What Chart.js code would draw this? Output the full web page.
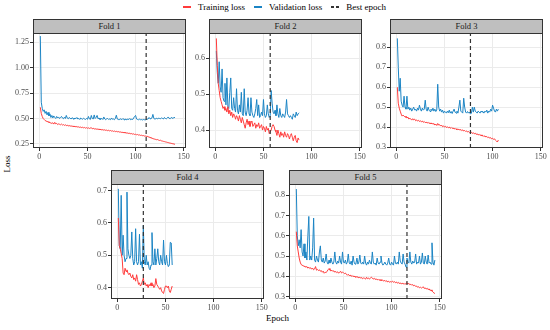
<!DOCTYPE html>
<html>
<head>
<meta charset="utf-8">
<script src="https://cdn.jsdelivr.net/npm/chart.js@4.4.1/dist/chart.umd.min.js"></script>
<style>
    body { margin: 0; background: #fff; width: 550px; height: 330px; position: relative; overflow: hidden;
        font-family: "Liberation Serif", "Times New Roman", "DejaVu Serif", serif; color: #000; }
    canvas { position: absolute; }
    .strip { position: absolute; box-sizing: border-box; border: 1px solid #333; background: #bfbfbf;
        font-size: 8.5px; line-height: 13px; text-align: center; color: #1a1a1a; }
    #legend { position: absolute; left: 183px; top: 1px; height: 12px; display: flex; align-items: center;
        font-size: 9px; white-space: nowrap; }
    #legend .key { width: 8px; height: 1.2px; margin-right: 7px; }
    #legend .item { margin-right: 9px; }
    .title { position: absolute; font-size: 9px; white-space: nowrap; }
</style>
</head>
<body>
<div id="legend">
    <span class="key" style="background:#ff3b3b"></span><span class="item">Training loss</span>
    <span class="key" style="background:#1b84c4"></span><span class="item">Validation loss</span>
    <span class="key" style="background:repeating-linear-gradient(to right,#333 0 3px,transparent 3px 5px);height:1.4px"></span><span>Best epoch</span>
</div>
<div class="title" style="left:-2px;top:159px;transform:rotate(-90deg);">Loss</div>
<div class="title" style="left:266px;top:313px;">Epoch</div>
<script>
var foldNames = ['Fold 1', 'Fold 2', 'Fold 3', 'Fold 4', 'Fold 5'];
var bestEpochs = [111, 57, 77, 27, 116];
var epochTicks = [0, 50, 100, 150];

var train1 = [0.61, 0.55, 0.52, 0.50, 0.49, 0.48, 0.475, 0.47, 0.468, 0.462,
    0.46, 0.455, 0.452, 0.458, 0.445, 0.462, 0.448, 0.452, 0.44, 0.447,
    0.443, 0.438, 0.445, 0.436, 0.44, 0.432, 0.438, 0.43, 0.434, 0.427,
    0.431, 0.425, 0.428, 0.422, 0.426, 0.419, 0.424, 0.417, 0.421, 0.415,
    0.418, 0.412, 0.416, 0.41, 0.414, 0.408, 0.412, 0.405, 0.41, 0.404,
    0.408, 0.402, 0.406, 0.41, 0.398, 0.404, 0.396, 0.40, 0.394, 0.398,
    0.392, 0.396, 0.39, 0.393, 0.387, 0.391, 0.385, 0.389, 0.383, 0.386,
    0.38, 0.384, 0.378, 0.382, 0.376, 0.379, 0.373, 0.377, 0.371, 0.374,
    0.369, 0.372, 0.366, 0.369, 0.363, 0.366, 0.36, 0.364, 0.358, 0.361,
    0.355, 0.358, 0.352, 0.355, 0.349, 0.352, 0.346, 0.349, 0.343, 0.345,
    0.34, 0.343, 0.337, 0.339, 0.334, 0.336, 0.331, 0.333, 0.327, 0.329,
    0.324, 0.326, 0.32, 0.318, 0.313, 0.31, 0.306, 0.303, 0.299, 0.297,
    0.294, 0.291, 0.293, 0.287, 0.284, 0.286, 0.28, 0.278, 0.275, 0.273,
    0.27, 0.268, 0.265, 0.263, 0.26, 0.258, 0.256, 0.253, 0.251, 0.249, 0.246];
var valid1 = [1.31, 0.66, 0.6, 0.57, 0.585, 0.55, 0.57, 0.535, 0.56, 0.525,
    0.545, 0.51, 0.53, 0.505, 0.525, 0.51, 0.5, 0.52, 0.505, 0.515,
    0.5, 0.51, 0.52, 0.505, 0.498, 0.512, 0.5, 0.53, 0.505, 0.497,
    0.51, 0.502, 0.495, 0.508, 0.5, 0.493, 0.505, 0.498, 0.51, 0.495,
    0.5, 0.49, 0.505, 0.497, 0.493, 0.502, 0.495, 0.49, 0.5, 0.492,
    0.52, 0.497, 0.49, 0.53, 0.5, 0.495, 0.535, 0.5, 0.51, 0.53,
    0.497, 0.505, 0.49, 0.495, 0.5, 0.49, 0.515, 0.495, 0.488, 0.497,
    0.5, 0.49, 0.495, 0.488, 0.505, 0.492, 0.495, 0.488, 0.5, 0.532,
    0.495, 0.49, 0.488, 0.497, 0.492, 0.49, 0.5, 0.487, 0.495, 0.49,
    0.488, 0.495, 0.49, 0.5, 0.487, 0.493, 0.49, 0.505, 0.52, 0.53,
    0.495, 0.49, 0.487, 0.493, 0.488, 0.49, 0.485, 0.49, 0.488, 0.486,
    0.49, 0.492, 0.495, 0.51, 0.497, 0.5, 0.505, 0.54, 0.5, 0.495,
    0.497, 0.502, 0.495, 0.505, 0.5, 0.497, 0.507, 0.5, 0.495, 0.51,
    0.5, 0.497, 0.505, 0.515, 0.5, 0.498, 0.51, 0.505, 0.5, 0.513, 0.505];

var train2 = [0.655, 0.58, 0.53, 0.51, 0.49, 0.48, 0.47, 0.46, 0.465, 0.455,
    0.46, 0.45, 0.465, 0.445, 0.455, 0.44, 0.45, 0.435, 0.445, 0.44,
    0.43, 0.44, 0.435, 0.425, 0.44, 0.43, 0.42, 0.435, 0.425, 0.415,
    0.405, 0.42, 0.43, 0.415, 0.425, 0.41, 0.42, 0.425, 0.41, 0.415,
    0.42, 0.405, 0.415, 0.41, 0.42, 0.405, 0.41, 0.415, 0.4, 0.41,
    0.405, 0.395, 0.41, 0.4, 0.405, 0.39, 0.395, 0.4, 0.41, 0.415,
    0.41, 0.4, 0.395, 0.385, 0.4, 0.39, 0.38, 0.395, 0.385, 0.39,
    0.38, 0.395, 0.385, 0.38, 0.39, 0.385, 0.375, 0.385, 0.39, 0.38,
    0.37, 0.38, 0.385, 0.37, 0.365, 0.378, 0.372];
var valid2 = [0.62, 0.56, 0.53, 0.59, 0.52, 0.505, 0.57, 0.49, 0.48, 0.53,
    0.47, 0.545, 0.465, 0.46, 0.505, 0.545, 0.46, 0.455, 0.49, 0.46,
    0.45, 0.515, 0.455, 0.445, 0.47, 0.45, 0.505, 0.445, 0.44, 0.515,
    0.45, 0.44, 0.455, 0.49, 0.445, 0.44, 0.49, 0.45, 0.44, 0.435,
    0.445, 0.46, 0.485, 0.44, 0.47, 0.435, 0.44, 0.45, 0.44, 0.485,
    0.445, 0.435, 0.44, 0.47, 0.445, 0.435, 0.44, 0.51, 0.475, 0.45,
    0.445, 0.455, 0.44, 0.47, 0.445, 0.435, 0.46, 0.44, 0.435, 0.445,
    0.44, 0.435, 0.45, 0.485, 0.445, 0.44, 0.435, 0.44, 0.435, 0.43,
    0.445, 0.44, 0.435, 0.45, 0.44, 0.445, 0.448];

var train3 = [0.6, 0.52, 0.495, 0.48, 0.465, 0.455, 0.46, 0.455, 0.45, 0.455,
    0.445, 0.45, 0.44, 0.445, 0.44, 0.435, 0.442, 0.436, 0.44, 0.432,
    0.436, 0.43, 0.434, 0.428, 0.432, 0.426, 0.43, 0.424, 0.428, 0.422,
    0.425, 0.42, 0.424, 0.418, 0.421, 0.416, 0.42, 0.414, 0.418, 0.41,
    0.415, 0.408, 0.418, 0.41, 0.412, 0.405, 0.41, 0.402, 0.406, 0.4,
    0.404, 0.398, 0.402, 0.396, 0.4, 0.394, 0.398, 0.393, 0.396, 0.39,
    0.394, 0.388, 0.392, 0.386, 0.39, 0.384, 0.388, 0.382, 0.386, 0.38,
    0.383, 0.378, 0.381, 0.375, 0.378, 0.372, 0.37, 0.374, 0.368, 0.372,
    0.366, 0.369, 0.363, 0.367, 0.36, 0.364, 0.358, 0.361, 0.355, 0.358,
    0.352, 0.356, 0.35, 0.353, 0.347, 0.35, 0.344, 0.347, 0.341, 0.344,
    0.338, 0.341, 0.334, 0.33, 0.325, 0.335];
var valid3 = [0.845, 0.7, 0.58, 0.645, 0.53, 0.51, 0.5, 0.555, 0.5, 0.49,
    0.555, 0.49, 0.5, 0.485, 0.495, 0.48, 0.49, 0.5, 0.485, 0.49,
    0.48, 0.495, 0.485, 0.51, 0.49, 0.48, 0.495, 0.485, 0.49, 0.535,
    0.49, 0.48, 0.5, 0.485, 0.478, 0.49, 0.482, 0.495, 0.48, 0.49,
    0.478, 0.485, 0.615, 0.5, 0.48, 0.49, 0.475, 0.485, 0.47, 0.48,
    0.475, 0.47, 0.48, 0.472, 0.485, 0.47, 0.478, 0.468, 0.48, 0.49,
    0.475, 0.47, 0.48, 0.47, 0.5, 0.535, 0.48, 0.475, 0.47, 0.545,
    0.5, 0.475, 0.47, 0.478, 0.47, 0.475, 0.465, 0.47, 0.5, 0.475,
    0.5, 0.48, 0.475, 0.47, 0.48, 0.475, 0.47, 0.48, 0.475, 0.478,
    0.47, 0.48, 0.475, 0.485, 0.47, 0.48, 0.475, 0.49, 0.48, 0.51,
    0.495, 0.48, 0.475, 0.49, 0.48, 0.49];

var train4 = [0.615, 0.53, 0.52, 0.505, 0.49, 0.445, 0.44, 0.46, 0.45, 0.455,
    0.445, 0.44, 0.445, 0.435, 0.43, 0.44, 0.425, 0.43, 0.42, 0.44,
    0.425, 0.41, 0.415, 0.405, 0.41, 0.42, 0.43, 0.41, 0.415, 0.405,
    0.41, 0.4, 0.41, 0.405, 0.415, 0.405, 0.41, 0.4, 0.405, 0.428,
    0.41, 0.405, 0.4, 0.395, 0.4, 0.39, 0.385, 0.382, 0.395, 0.405,
    0.405, 0.4, 0.405, 0.39, 0.385, 0.395, 0.405];
var valid4 = [0.705, 0.53, 0.52, 0.685, 0.5, 0.562, 0.5, 0.48, 0.49, 0.695,
    0.52, 0.5, 0.49, 0.5, 0.572, 0.49, 0.47, 0.48, 0.582, 0.48,
    0.47, 0.48, 0.565, 0.47, 0.48, 0.46, 0.592, 0.48, 0.47, 0.5,
    0.47, 0.48, 0.46, 0.455, 0.47, 0.57, 0.48, 0.47, 0.52, 0.47,
    0.49, 0.52, 0.48, 0.47, 0.5, 0.48, 0.47, 0.547, 0.48, 0.47,
    0.5, 0.475, 0.465, 0.47, 0.54, 0.538, 0.47];

var train5 = [0.62, 0.55, 0.52, 0.49, 0.47, 0.458, 0.455, 0.452, 0.45, 0.448,
    0.445, 0.448, 0.44, 0.445, 0.438, 0.442, 0.435, 0.44, 0.432, 0.436,
    0.448, 0.43, 0.434, 0.428, 0.432, 0.425, 0.428, 0.42, 0.425, 0.415,
    0.42, 0.418, 0.425, 0.432, 0.438, 0.43, 0.426, 0.43, 0.424, 0.427,
    0.42, 0.424, 0.418, 0.422, 0.415, 0.42, 0.425, 0.416, 0.42, 0.418,
    0.413, 0.416, 0.41, 0.405, 0.41, 0.403, 0.406, 0.4, 0.404, 0.398,
    0.402, 0.396, 0.4, 0.394, 0.398, 0.392, 0.396, 0.39, 0.394, 0.388,
    0.392, 0.39, 0.386, 0.395, 0.388, 0.392, 0.386, 0.39, 0.396, 0.392,
    0.386, 0.39, 0.384, 0.388, 0.382, 0.385, 0.38, 0.384, 0.378, 0.382,
    0.38, 0.376, 0.38, 0.374, 0.378, 0.372, 0.376, 0.37, 0.374, 0.372,
    0.376, 0.37, 0.374, 0.368, 0.372, 0.366, 0.37, 0.364, 0.368, 0.362,
    0.366, 0.362, 0.365, 0.36, 0.366, 0.368, 0.362, 0.365, 0.358, 0.361,
    0.356, 0.359, 0.353, 0.356, 0.35, 0.352, 0.346, 0.349, 0.343, 0.346,
    0.342, 0.345, 0.348, 0.34, 0.343, 0.337, 0.341, 0.334, 0.338, 0.33,
    0.333, 0.327, 0.322, 0.318, 0.315];
var valid5 = [0.83, 0.6, 0.55, 0.58, 0.54, 0.63, 0.52, 0.5, 0.56, 0.49,
    0.52, 0.48, 0.6, 0.695, 0.48, 0.5, 0.48, 0.54, 0.687, 0.48,
    0.47, 0.5, 0.48, 0.47, 0.52, 0.55, 0.48, 0.47, 0.49, 0.465,
    0.475, 0.51, 0.47, 0.46, 0.48, 0.465, 0.49, 0.47, 0.46, 0.47,
    0.52, 0.47, 0.46, 0.475, 0.465, 0.5, 0.47, 0.46, 0.52, 0.47,
    0.465, 0.48, 0.46, 0.47, 0.51, 0.465, 0.46, 0.475, 0.455, 0.5,
    0.47, 0.46, 0.465, 0.49, 0.46, 0.47, 0.505, 0.465, 0.46, 0.47,
    0.46, 0.5, 0.465, 0.455, 0.47, 0.46, 0.48, 0.465, 0.46, 0.52,
    0.47, 0.46, 0.465, 0.455, 0.49, 0.465, 0.46, 0.47, 0.5, 0.465,
    0.455, 0.46, 0.47, 0.46, 0.455, 0.465, 0.49, 0.46, 0.455, 0.47,
    0.46, 0.455, 0.5, 0.465, 0.46, 0.47, 0.46, 0.52, 0.475, 0.465,
    0.46, 0.51, 0.47, 0.46, 0.445, 0.49, 0.47, 0.465, 0.52, 0.47,
    0.46, 0.475, 0.465, 0.47, 0.51, 0.46, 0.47, 0.465, 0.5, 0.46,
    0.47, 0.515, 0.465, 0.46, 0.5, 0.47, 0.46, 0.505, 0.465, 0.47,
    0.46, 0.565, 0.47, 0.455, 0.48];

var yTicks1 = [0.25, 0.5, 0.75, 1.0, 1.25];
var yTicks2 = [0.4, 0.5, 0.6];
var yTicks3 = [0.3, 0.4, 0.5, 0.6, 0.7, 0.8];
var yTicks4 = [0.4, 0.5, 0.6, 0.7];
var yTicks5 = [0.3, 0.4, 0.5, 0.6, 0.7, 0.8];
var yLimits = [[0.21, 1.34], [0.35, 0.67], [0.295, 0.872], [0.365, 0.72], [0.288, 0.855]];
var epochLimits = [-6.6, 152.4];

// layout of the five facets (plot area top-left corners)
var PW = 153, PH = 115, AX_W = 33, AX_H = 16, PAD_T = 8, PAD_R = 10;
var places = [[33, 33], [209, 33], [390, 33], [111, 184], [289, 184]];
var FONT = '"Liberation Serif", "Times New Roman", "DejaVu Serif", serif';

var frame = {
    id: 'frame',
    afterDraw: function (c) {
        var a = c.chartArea, ctx = c.ctx;
        ctx.save();
        ctx.strokeStyle = '#333';
        ctx.lineWidth = 1;
        ctx.strokeRect(a.left + 0.5, a.top + 0.5, a.width - 1, a.height - 1);
        ctx.restore();
    }
};

function points(arr) {
    return arr.map(function (v, i) { return { x: i + 1, y: v }; });
}

function panel(k, train, valid, yTicks, digits) {
    var left = places[k][0], top = places[k][1];
    var lim = yLimits[k];

    var strip = document.createElement('div');
    strip.className = 'strip';
    strip.textContent = foldNames[k];
    strip.style.left = left + 'px';
    strip.style.top = (top - 14) + 'px';
    strip.style.width = PW + 'px';
    strip.style.height = '15px';
    document.body.appendChild(strip);

    var canvas = document.createElement('canvas');
    canvas.width = AX_W + PW + PAD_R;
    canvas.height = PAD_T + PH + AX_H;
    canvas.style.left = (left - AX_W) + 'px';
    canvas.style.top = (top - PAD_T) + 'px';
    document.body.appendChild(canvas);

    var tickFont = { family: FONT, size: 8 };
    new Chart(canvas, {
        type: 'line',
        data: {
            datasets: [{
                label: 'Best epoch',
                data: [{ x: bestEpochs[k], y: lim[0] }, { x: bestEpochs[k], y: lim[1] }],
                borderColor: '#333',
                borderWidth: 1.2,
                borderDash: [4, 3],
                pointRadius: 0
            }, {
                label: 'Training loss',
                data: points(train),
                borderColor: '#ff3b3b',
                borderWidth: 1,
                pointRadius: 0
            }, {
                label: 'Validation loss',
                data: points(valid),
                borderColor: '#1b84c4',
                borderWidth: 1,
                pointRadius: 0
            }]
        },
        options: {
            responsive: false,
            animation: false,
            devicePixelRatio: 1,
            layout: { padding: { top: PAD_T, right: PAD_R, left: 0, bottom: 0 } },
            plugins: { legend: { display: false }, tooltip: { enabled: false } },
            scales: {
                x: {
                    type: 'linear',
                    min: epochLimits[0],
                    max: epochLimits[1],
                    afterBuildTicks: function (s) { s.ticks = epochTicks.map(function (v) { return { value: v }; }); },
                    afterFit: function (s) { s.height = AX_H; },
                    grid: { color: '#ebebeb', lineWidth: 1, tickColor: '#333', tickLength: 3 },
                    border: { display: false },
                    ticks: { font: tickFont, color: '#4d4d4d', padding: 1, autoSkip: false, maxRotation: 0 }
                },
                y: {
                    type: 'linear',
                    min: lim[0],
                    max: lim[1],
                    afterBuildTicks: function (s) { s.ticks = yTicks.map(function (v) { return { value: v }; }); },
                    afterFit: function (s) { s.width = AX_W; },
                    grid: { color: '#ebebeb', lineWidth: 1, tickColor: '#333', tickLength: 3 },
                    border: { display: false },
                    ticks: {
                        font: tickFont, color: '#4d4d4d', padding: 1, autoSkip: false,
                        callback: function (v) { return Number(v).toFixed(digits); }
                    }
                }
            }
        },
        plugins: [frame]
    });
}

panel(0, train1, valid1, yTicks1, 2);
panel(1, train2, valid2, yTicks2, 1);
panel(2, train3, valid3, yTicks3, 1);
panel(3, train4, valid4, yTicks4, 1);
panel(4, train5, valid5, yTicks5, 1);
</script>
</body>
</html>
